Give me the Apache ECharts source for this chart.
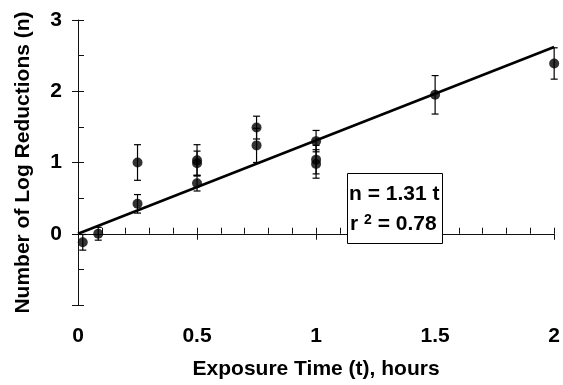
<!DOCTYPE html>
<html>
<head>
<meta charset="utf-8">
<script src="https://cdn.jsdelivr.net/npm/echarts@6/dist/echarts.min.js"></script>
<style>
html,body{margin:0;padding:0;background:#fff;}
#chart{width:563px;height:385px;}
</style>
</head>
<body>
<div id="chart"></div>
<script>
// Exposure time (hours)
var times  = [0.02, 0.085, 0.25, 0.25, 0.5, 0.5, 0.5, 0.75, 0.75, 1.0, 1.0, 1.0, 1.5, 2.0];
// Mean number of log reductions
var means  = [-0.12, 0.0, 1.0, 0.42, 1.03, 0.99, 0.71, 1.49, 1.24, 1.30, 1.04, 0.98, 1.95, 2.39];
// Error bar half-widths
var errors = [0.11, 0.09, 0.25, 0.13, 0.22, 0.17, 0.11, 0.16, 0.24, 0.15, 0.20, 0.20, 0.27, 0.22];
// Fit: n = slope * t
var fitSlope = 1.31;
var fitT = [0, 2];
var fitLabel1 = 'n = 1.31 t';
var fitR2 = '0.78';
var xTicks = [0, 0.5, 1, 1.5, 2];
var yTicks = [-1, 0, 1, 2, 3];

var FONT = '"Liberation Sans", Arial, sans-serif';
var AX = '#111';

var points = times.map(function (t, i) { return [t, means[i]]; });
var bars = times.map(function (t, i) { return [t, means[i] - errors[i], means[i] + errors[i]]; });
var fitLine = fitT.map(function (t) { return [t, fitSlope * t]; });

var chart = echarts.init(document.getElementById('chart'), null, {renderer: 'canvas'});

function baseX(primary) {
  return {
    type: 'value', position: 'bottom',
    min: xTicks[0], max: xTicks[xTicks.length - 1], interval: 0.5,
    axisLine: {show: primary, lineStyle: {color: AX, width: 1}},
    axisTick: {show: true, inside: primary, length: 6, lineStyle: {color: AX, width: 1}},
    minorTick: {show: primary, splitNumber: 5, length: 6, lineStyle: {color: AX, width: 1}},
    splitLine: {show: false},
    axisLabel: {show: primary, margin: 21, color: '#000', fontSize: 21, fontWeight: 'bold', fontFamily: FONT,
      formatter: function (v) { return String(v); }},
    name: primary ? 'Exposure Time (t), hours' : '',
    nameLocation: 'middle', nameGap: 54,
    nameTextStyle: {color: '#000', fontSize: 21, fontWeight: 'bold', fontFamily: FONT}
  };
}
function baseY(primary) {
  return {
    type: 'value', position: 'left',
    min: yTicks[0], max: yTicks[yTicks.length - 1], interval: 1,
    axisLine: {show: primary, lineStyle: {color: AX, width: 1}},
    axisTick: {show: true, inside: primary, length: 6, lineStyle: {color: AX, width: 1}},
    minorTick: {show: primary, splitNumber: 2, length: 6, lineStyle: {color: AX, width: 1}},
    splitLine: {show: false},
    axisLabel: {show: primary, margin: 16, color: '#000', fontSize: 21, fontWeight: 'bold', fontFamily: FONT,
      formatter: function (v) { return v === -1 ? '' : String(v); }},
    name: primary ? 'Number of Log Reductions (n)' : '',
    nameLocation: 'middle', nameGap: 44, nameRotate: 90,
    nameTextStyle: {color: '#000', fontSize: 21, fontWeight: 'bold', fontFamily: FONT}
  };
}

var option = {
  animation: false,
  backgroundColor: '#fff',
  grid: {left: 78, right: 5, top: 20, bottom: 77, containLabel: false},
  xAxis: [baseX(true), baseX(false)],
  yAxis: [baseY(true), baseY(false)],
  series: [
    {
      type: 'line', data: fitLine, showSymbol: false, symbol: 'none',
      lineStyle: {color: '#000', width: 2.6}, z: 3, silent: true
    },
    {
      type: 'custom', data: bars, z: 4, silent: true,
      renderItem: function (params, api) {
        var x = api.value(0);
        var lo = api.coord([x, api.value(1)]);
        var hi = api.coord([x, api.value(2)]);
        var w = 3.5;
        var st = {stroke: '#000', lineWidth: 1.2};
        return {type: 'group', children: [
          {type: 'line', shape: {x1: lo[0], y1: lo[1], x2: hi[0], y2: hi[1]}, style: st},
          {type: 'line', shape: {x1: lo[0] - w, y1: lo[1], x2: lo[0] + w, y2: lo[1]}, style: st},
          {type: 'line', shape: {x1: hi[0] - w, y1: hi[1], x2: hi[0] + w, y2: hi[1]}, style: st}
        ]};
      }
    },
    {
      type: 'scatter', data: points, symbol: 'circle', symbolSize: 10,
      itemStyle: {color: '#000'}, z: 5, silent: true
    }
  ],
  graphic: [
    {type: 'rect', left: 347, top: 173, shape: {width: 95, height: 70},
     style: {fill: '#fff', stroke: '#000', lineWidth: 1}, z: 10},
    {type: 'text', left: 349, top: 184, z: 11,
     style: {text: fitLabel1, fill: '#000', font: 'bold 21px ' + FONT}},
    {type: 'text', left: 350, top: 213, z: 11,
     style: {text: '{a|r }{s|2}{a| = ' + fitR2 + '}', fill: '#000', font: 'bold 21px ' + FONT,
       rich: {
         a: {fontSize: 21, fontWeight: 'bold', fontFamily: FONT, fill: '#000', verticalAlign: 'bottom'},
         s: {fontSize: 14, fontWeight: 'bold', fontFamily: FONT, fill: '#000', verticalAlign: 'top', padding: [0, 0, 8, 0]}
       }}}
  ]
};
chart.setOption(option);
</script>
</body>
</html>
